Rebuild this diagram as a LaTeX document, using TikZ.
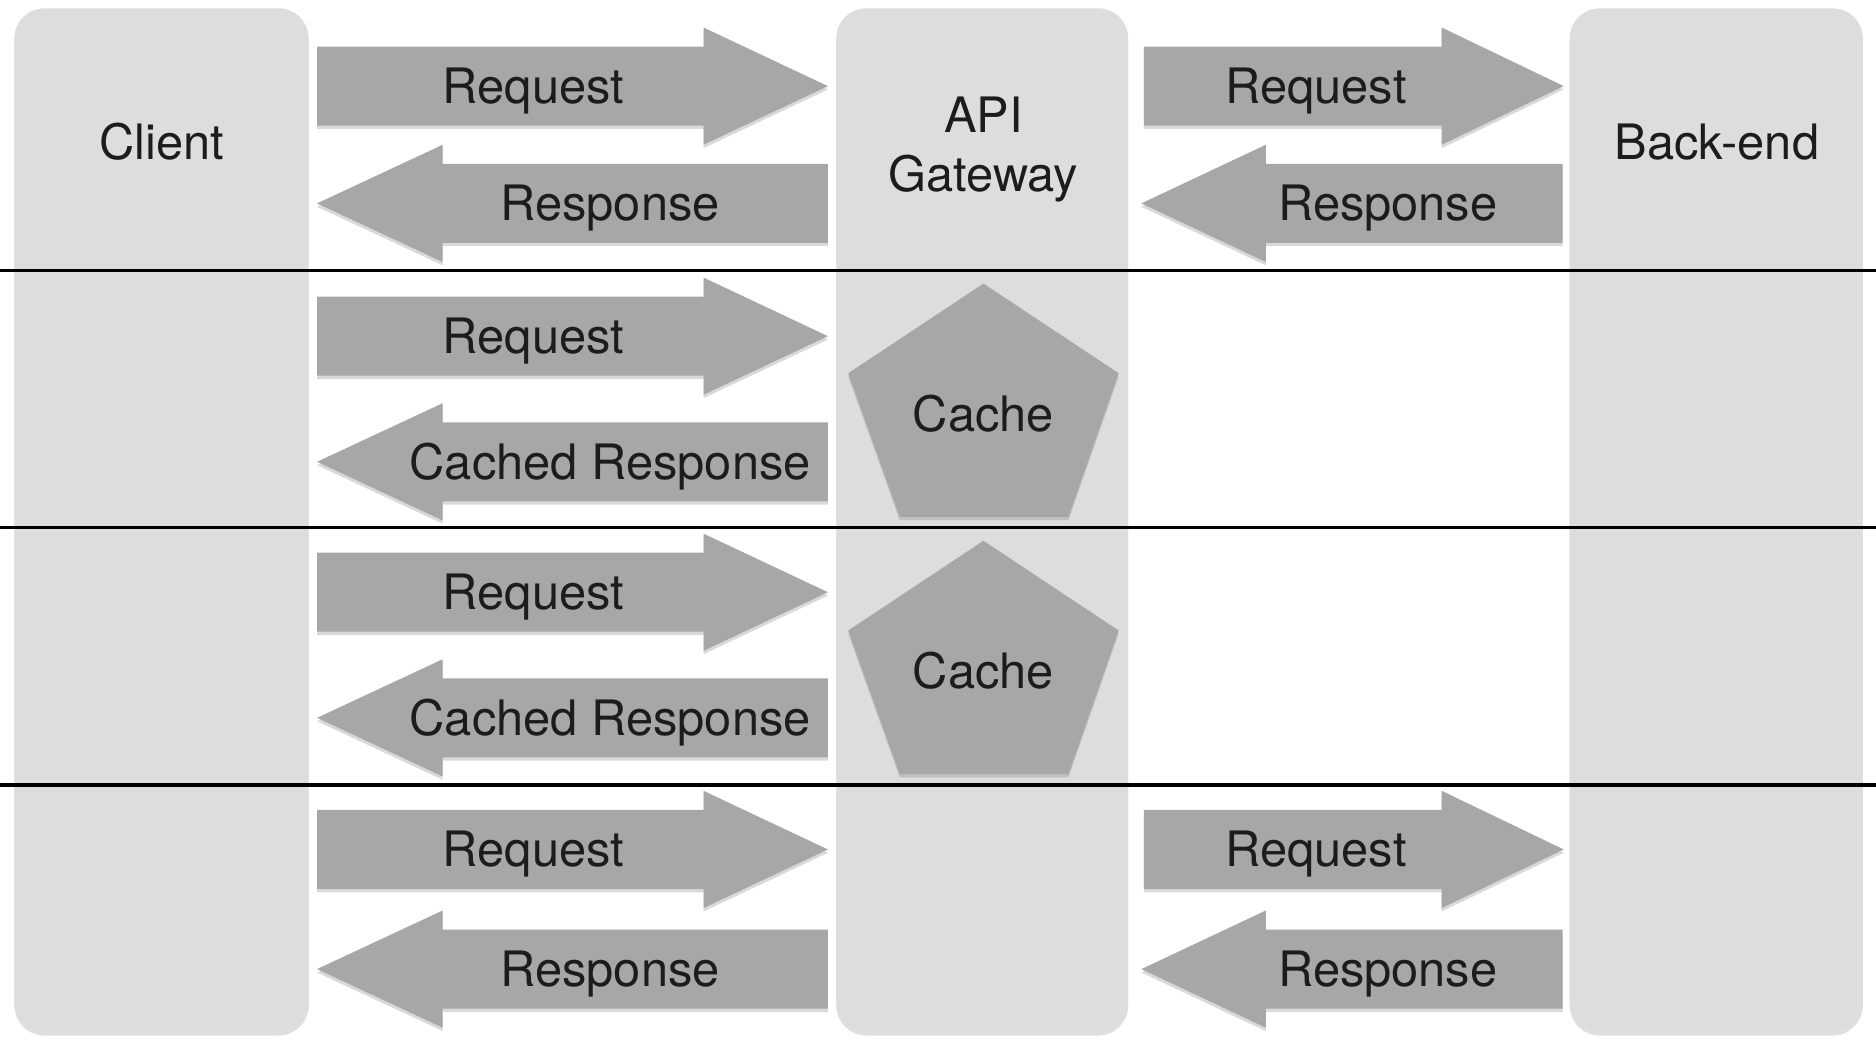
\documentclass[tikz,border=0pt]{standalone}
\usepackage{fontspec}
\setmainfont{TeX Gyre Heros}
\usetikzlibrary{shadows}
\definecolor{lanegray}{RGB}{220,221,223}
\definecolor{arrowgray}{RGB}{165,168,167}
\definecolor{textgray}{RGB}{28,28,28}
\begin{document}
\begin{tikzpicture}[x=0.01cm,y=-0.01cm,
    lane/.style={fill=lanegray,rounded corners=0.25cm,
      drop shadow={shadow xshift=0pt,shadow yshift=-1pt,opacity=0.25}},
    blockarrow/.style={fill=arrowgray,
      drop shadow={shadow xshift=0pt,shadow yshift=-0.8pt,opacity=0.3}},
    sepline/.style={line width=0.85pt,black},
    lbl/.style={font=\fontsize{11.6}{14}\selectfont,text=textgray,inner sep=0pt}]
      \useasboundingbox (0,0) rectangle (1568,877.6);
      % lanes
      \fill[lane] (12,7) rectangle (258,862);
      \fill[lane] (699,7) rectangle (943,862);
      \fill[lane] (1312,7) rectangle (1557,862);
      \node[lbl,anchor=base] (client) at (135,133.5) {Client};
      \node[lbl,align=center] (gateway) at (822,125) {API\\Gateway};
      \node[lbl,anchor=base] (backend) at (1435,133.5) {Back-end};
      % separators
      \draw[sepline] (0,226) -- (1568,226);
      \draw[sepline] (0,441) -- (1568,441);
      \draw[sepline] (0,656) -- (1568,656);
      % case 1: through to the back-end
      \fill[blockarrow] (265,39) -- (588,39) -- (588,23) -- (692,72) -- (588,121) -- (588,105) -- (265,105) -- cycle;
      \fill[blockarrow] (692,137) -- (370,137) -- (370,121) -- (265,170) -- (370,219) -- (370,203) -- (692,203) -- cycle;
      \fill[blockarrow] (956,39) -- (1205,39) -- (1205,23) -- (1307,72) -- (1205,121) -- (1205,105) -- (956,105) -- cycle;
      \fill[blockarrow] (1306,137) -- (1058,137) -- (1058,121) -- (954,170) -- (1058,219) -- (1058,203) -- (1306,203) -- cycle;
      \node[lbl,anchor=base] (req1) at (446,86.5) {Request};
      \node[lbl,anchor=base] (resp1) at (510,184.5) {Response};
      \node[lbl,anchor=base] (breq1) at (1100,86.5) {Request};
      \node[lbl,anchor=base] (bresp1) at (1160,184.5) {Response};
      % case 2: served from the cache
      \fill[blockarrow] (265,248) -- (588,248) -- (588,232) -- (692,281) -- (588,330) -- (588,314) -- (265,314) -- cycle;
      \fill[blockarrow] (692,353) -- (370,353) -- (370,337) -- (265,386) -- (370,435) -- (370,419) -- (692,419) -- cycle;
      \fill[blockarrow] (822,237) -- (935,312) -- (893,432) -- (752,432) -- (709,312) -- cycle;
      \node[lbl,anchor=base] (req2) at (446,295.5) {Request};
      \node[lbl,anchor=base] (cresp2) at (510,400.5) {Cached Response};
      \node[lbl,anchor=base] (cache2) at (822,360.5) {Cache};
      % case 3: served from the cache
      \fill[blockarrow] (265,462) -- (588,462) -- (588,446) -- (692,495) -- (588,544) -- (588,528) -- (265,528) -- cycle;
      \fill[blockarrow] (692,567) -- (370,567) -- (370,551) -- (265,600) -- (370,649) -- (370,633) -- (692,633) -- cycle;
      \fill[blockarrow] (822,452) -- (935,527) -- (893,647) -- (752,647) -- (709,527) -- cycle;
      \node[lbl,anchor=base] (req3) at (446,509.5) {Request};
      \node[lbl,anchor=base] (cresp3) at (510,614.5) {Cached Response};
      \node[lbl,anchor=base] (cache3) at (822,575.5) {Cache};
      % case 4: through to the back-end
      \fill[blockarrow] (265,677) -- (588,677) -- (588,661) -- (692,710) -- (588,759) -- (588,743) -- (265,743) -- cycle;
      \fill[blockarrow] (692,777) -- (370,777) -- (370,761) -- (265,810) -- (370,859) -- (370,843) -- (692,843) -- cycle;
      \fill[blockarrow] (956,677) -- (1205,677) -- (1205,661) -- (1307,710) -- (1205,759) -- (1205,743) -- (956,743) -- cycle;
      \fill[blockarrow] (1306,777) -- (1058,777) -- (1058,761) -- (954,810) -- (1058,859) -- (1058,843) -- (1306,843) -- cycle;
      \node[lbl,anchor=base] (req4) at (446,724.5) {Request};
      \node[lbl,anchor=base] (resp4) at (510,824.5) {Response};
      \node[lbl,anchor=base] (breq4) at (1100,724.5) {Request};
      \node[lbl,anchor=base] (bresp4) at (1160,824.5) {Response};
    \end{tikzpicture}
\end{document}
